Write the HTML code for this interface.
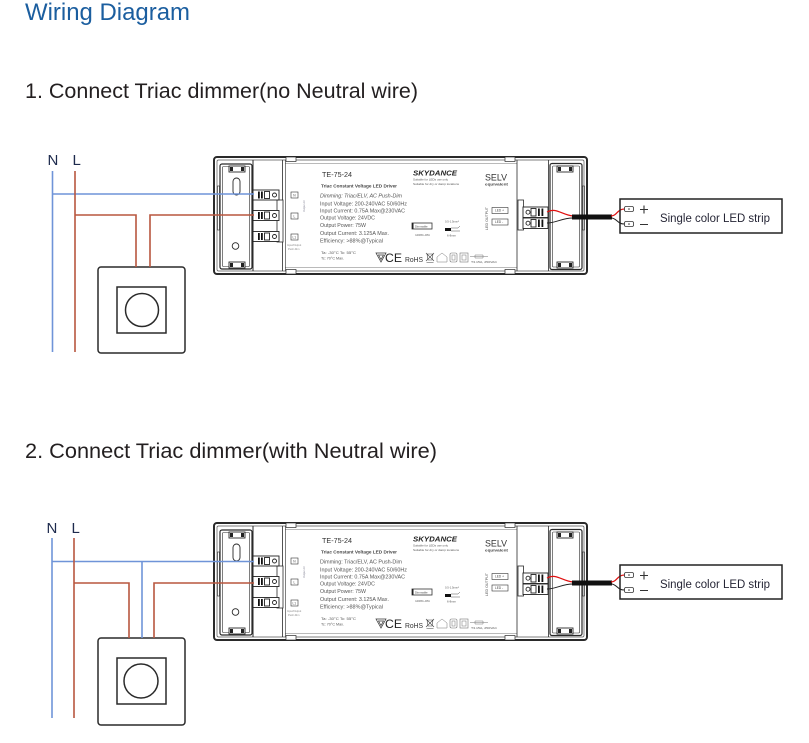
<!DOCTYPE html>
<html><head><meta charset="utf-8">
<style>
html,body{margin:0;padding:0;background:#fff;width:809px;height:743px;overflow:hidden}
svg{display:block}
</style></head>
<body>
<svg width="809" height="743" viewBox="0 0 809 743" xmlns="http://www.w3.org/2000/svg" font-family="'Liberation Sans', Arial, sans-serif">
<rect width="809" height="743" fill="#fff"/>

<!-- Titles -->
<text x="25" y="20" font-size="24" fill="#1b5e9f" textLength="165" lengthAdjust="spacingAndGlyphs">Wiring Diagram</text>
<text x="25" y="98" font-size="21" fill="#231f20" textLength="393" lengthAdjust="spacingAndGlyphs">1. Connect Triac dimmer(no Neutral wire)</text>
<text x="25" y="458" font-size="21" fill="#231f20" textLength="412" lengthAdjust="spacingAndGlyphs">2. Connect Triac dimmer(with Neutral wire)</text>

<!-- N / L labels -->
<text x="47.5" y="165" font-size="15" fill="#1d2a4d">N</text>
<text x="72.5" y="165" font-size="15" fill="#1d2a4d">L</text>
<text x="46.5" y="533" font-size="15" fill="#1d2a4d">N</text>
<text x="71.5" y="533" font-size="15" fill="#1d2a4d">L</text>

<!-- ========== DRIVER 1 ========== -->
<g id="drv1">
<g fill="none" stroke="#2a2a2a">
  <rect x="214" y="157" width="373" height="117" rx="3" stroke-width="2" fill="#fff"/>
  <rect x="217" y="160" width="367" height="111" rx="1.5" stroke-width="0.7" stroke="#555"/>
  <line x1="285" y1="163.5" x2="517" y2="163.5" stroke-width="0.6" stroke="#777"/>
  <line x1="285" y1="267.5" x2="517" y2="267.5" stroke-width="0.6" stroke="#777"/>
  <line x1="253" y1="160" x2="253" y2="271" stroke-width="1"/>
  <line x1="282.5" y1="160" x2="282.5" y2="271" stroke-width="0.8"/>
  <line x1="285.5" y1="160" x2="285.5" y2="271" stroke-width="0.6"/>
  <line x1="517" y1="160" x2="517" y2="271" stroke-width="0.8"/>
  <line x1="548.5" y1="160" x2="548.5" y2="271" stroke-width="0.8"/>
  <rect x="286" y="157" width="10" height="4.5" stroke-width="0.7" fill="#fff"/>
  <rect x="286" y="269.5" width="10" height="4.5" stroke-width="0.7" fill="#fff"/>
  <rect x="505" y="157" width="10" height="4.5" stroke-width="0.7" fill="#fff"/>
  <rect x="505" y="269.5" width="10" height="4.5" stroke-width="0.7" fill="#fff"/>
  <!-- left end cap -->
  <rect x="220" y="164" width="32" height="105" rx="2" stroke-width="1.2"/>
  <rect x="222.5" y="166.5" width="27" height="100" rx="1" stroke-width="0.6"/>
  <rect x="217.5" y="186" width="2" height="44" stroke-width="0.6"/>
  <rect x="233" y="178" width="7" height="17" rx="3.5" stroke-width="0.9"/>
  <circle cx="235.5" cy="246" r="3.3" stroke-width="0.9"/>
  <rect x="229" y="166" width="16" height="6" fill="#fff" stroke-width="0.9"/>
  <rect x="229" y="262" width="16" height="6" fill="#fff" stroke-width="0.9"/>
  <!-- right end cap -->
  <rect x="550" y="163.5" width="32" height="106" rx="2" stroke-width="1.2"/>
  <rect x="552.5" y="166" width="27" height="101" rx="1" stroke-width="0.6"/>
  <rect x="582.5" y="186" width="2" height="44" stroke-width="0.6"/>
  <rect x="557" y="166" width="16" height="6" fill="#fff" stroke-width="0.9"/>
  <rect x="557" y="262" width="16" height="6" fill="#fff" stroke-width="0.9"/>
  <!-- brackets -->
  <rect x="277" y="200" width="6" height="42" fill="#fff" stroke-width="0.8"/>
  <rect x="518" y="200" width="5.5" height="30" fill="#fff" stroke-width="0.8"/>
</g>
<g fill="#222">
  <rect x="230" y="167" width="3" height="4"/><rect x="241" y="167" width="3" height="4"/>
  <rect x="230" y="263" width="3" height="4"/><rect x="241" y="263" width="3" height="4"/>
  <rect x="558" y="167" width="3" height="4"/><rect x="569" y="167" width="3" height="4"/>
  <rect x="558" y="263" width="3" height="4"/><rect x="569" y="263" width="3" height="4"/>
</g>
<!-- left terminal blocks -->
<g stroke="#222" stroke-width="0.9" fill="#fff">
  <rect x="253" y="190" width="26" height="10"/>
  <rect x="253" y="210.5" width="26" height="10"/>
  <rect x="253" y="231.5" width="26" height="10"/>
  <rect x="264.5" y="191.5" width="5" height="7" fill="none"/>
  <rect x="264.5" y="212" width="5" height="7" fill="none"/>
  <rect x="264.5" y="233" width="5" height="7" fill="none"/>
  <circle cx="274.5" cy="195" r="2" fill="none"/>
  <circle cx="274.5" cy="215.5" r="2" fill="none"/>
  <circle cx="274.5" cy="236.5" r="2" fill="none"/>
  <!-- right blocks -->
  <rect x="523" y="207" width="25" height="10.5"/>
  <rect x="523" y="218" width="25" height="10.5"/>
  <circle cx="528" cy="212.2" r="2" fill="none"/>
  <circle cx="528" cy="223.2" r="2" fill="none"/>
  <rect x="531" y="208.5" width="5" height="7.5" fill="none"/>
  <rect x="531" y="219.5" width="5" height="7.5" fill="none"/>
</g>
<g fill="#111">
  <rect x="258" y="191.5" width="1.8" height="7"/><rect x="261" y="191.5" width="1.8" height="7"/>
  <rect x="258" y="212" width="1.8" height="7"/><rect x="261" y="212" width="1.8" height="7"/>
  <rect x="258" y="233" width="1.8" height="7"/><rect x="261" y="233" width="1.8" height="7"/>
  <rect x="538" y="208.5" width="1.8" height="7.5"/><rect x="541.5" y="208.5" width="1.8" height="7.5"/>
  <rect x="538" y="219.5" width="1.8" height="7.5"/><rect x="541.5" y="219.5" width="1.8" height="7.5"/>
</g>
<!-- label boxes -->
<g fill="none" stroke="#333" stroke-width="0.6">
  <rect x="291" y="192" width="7" height="6"/>
  <rect x="291" y="213" width="7" height="6"/>
  <rect x="291" y="234" width="7" height="6"/>
  <rect x="492" y="207.5" width="16" height="6"/>
  <rect x="492" y="219" width="16" height="6"/>
</g>
<g fill="#444" font-size="3.2">
  <text x="293.3" y="196.6">N</text>
  <text x="293.5" y="217.6">L</text>
  <text x="292.5" y="238.6">L1</text>
  <text x="495" y="211.6">LED +</text>
  <text x="495" y="223.1">LED -</text>
  <text x="287" y="246" font-size="2.6" fill="#888">Input/Output</text>
  <text x="288" y="250" font-size="2.6" fill="#888">Push-Dim</text>
  <text transform="translate(305,212) rotate(-90)" font-size="2.6" fill="#889">Output AC</text>
  <text transform="translate(488,230) rotate(-90)" font-size="3.4" fill="#555" textLength="23" lengthAdjust="spacingAndGlyphs">LED OUTPUT</text>
</g>
<!-- label text -->
<g fill="#555">
  <text x="322" y="177" font-size="7.5" fill="#333" textLength="30" lengthAdjust="spacingAndGlyphs">TE-75-24</text>
  <text x="321" y="187.5" font-size="4.5" font-weight="bold" fill="#444" textLength="76" lengthAdjust="spacingAndGlyphs">Triac Constant Voltage LED Driver</text>
  <text x="320" y="197.5" font-size="5.2" font-style="italic" textLength="82" lengthAdjust="spacingAndGlyphs">Dimming: Triac/ELV, AC Push-Dim</text>
  <text x="320" y="205.5" font-size="5.2" textLength="87" lengthAdjust="spacingAndGlyphs">Input Voltage: 200-240VAC 50/60Hz</text>
  <text x="320" y="212.5" font-size="5.2" textLength="85" lengthAdjust="spacingAndGlyphs">Input Current: 0.75A Max@230VAC</text>
  <text x="320" y="219.5" font-size="5.2" textLength="55" lengthAdjust="spacingAndGlyphs">Output Voltage: 24VDC</text>
  <text x="320" y="227" font-size="5.2" textLength="46" lengthAdjust="spacingAndGlyphs">Output Power: 75W</text>
  <text x="320" y="235" font-size="5.2" textLength="69" lengthAdjust="spacingAndGlyphs">Output Current: 3.125A Max.</text>
  <text x="320" y="242.5" font-size="5.2" textLength="63" lengthAdjust="spacingAndGlyphs">Efficiency: &gt;88%@Typical</text>
  <text x="321" y="254" font-size="3.6" textLength="35" lengthAdjust="spacingAndGlyphs">Ta: -30°C  Tc: 55°C</text>
  <text x="321" y="259.5" font-size="3.6" textLength="23" lengthAdjust="spacingAndGlyphs">Tc: 70°C Max.</text>
  <text x="413" y="175.5" font-size="7.5" font-weight="bold" font-style="italic" fill="#222" textLength="44" lengthAdjust="spacingAndGlyphs">SKYDANCE</text>
  <text x="413" y="180.5" font-size="3.1" textLength="35" lengthAdjust="spacingAndGlyphs">Suitable for LEDs use only</text>
  <text x="413" y="185" font-size="3.1" textLength="46" lengthAdjust="spacingAndGlyphs">Suitable for dry or damp locations</text>
  <text x="485" y="180.5" font-size="9" fill="#333" textLength="22" lengthAdjust="spacingAndGlyphs">SELV</text>
  <text x="485" y="185.5" font-size="4" font-weight="bold" fill="#444" textLength="23" lengthAdjust="spacingAndGlyphs">equivalent</text>
  <!-- dimmable badge -->
  <rect x="412" y="223" width="20" height="6" fill="#fff" stroke="#333" stroke-width="0.8"/>
  <rect x="412" y="223" width="1.5" height="6" fill="#222"/>
  <text x="415" y="227.3" font-size="2.8" fill="#444">Dimmable</text>
  <text x="415" y="236" font-size="3" textLength="15" lengthAdjust="spacingAndGlyphs">100%-0%</text>
  <text x="445" y="222.5" font-size="2.8" textLength="14" lengthAdjust="spacingAndGlyphs">0.5-1.5mm²</text>
  <rect x="445" y="228" width="6" height="3" fill="#111"/>
  <path d="M451 228 H458 L460 226 M451 231 H460" fill="none" stroke="#555" stroke-width="0.5"/>
  <text x="447" y="236.5" font-size="2.8" textLength="9" lengthAdjust="spacingAndGlyphs">6-8mm</text>
  <!-- certification row -->
  <path d="M376 253 L386 253 L381 262 Z M378.5 255 L383.5 255 L381 259.5 Z" fill="none" stroke="#333" stroke-width="0.7"/>
  <text x="385" y="262" font-size="12" fill="#222" textLength="17" lengthAdjust="spacingAndGlyphs">CE</text>
  <text x="405" y="262" font-size="7" fill="#333" textLength="18" lengthAdjust="spacingAndGlyphs">RoHS</text>
  <path d="M427 254 H433 L432 260 H428 Z M426 253 L434 261 M434 253 L426 261 M426.5 262.5 H433.5" fill="none" stroke="#444" stroke-width="0.6"/>
  <path d="M437 262 V257 L442 253 L447 257 V262 Z" fill="none" stroke="#777" stroke-width="0.5"/>
  <rect x="450" y="253" width="7" height="9" rx="1.5" fill="none" stroke="#777" stroke-width="0.6"/>
  <rect x="452" y="255" width="3" height="5" fill="none" stroke="#777" stroke-width="0.5"/>
  <rect x="460" y="253" width="8" height="9" fill="none" stroke="#777" stroke-width="0.6"/>
  <rect x="462" y="255" width="4" height="5" fill="none" stroke="#777" stroke-width="0.5"/>
  <path d="M470 256.5 H488 M475 255 H483 V258 H475 Z" fill="none" stroke="#777" stroke-width="0.5"/>
  <text x="471" y="263" font-size="2.8" textLength="26" lengthAdjust="spacingAndGlyphs">T3.15A, 250VAC</text>
</g>
<!-- output wires & cable -->
<path d="M547 212 C556 207 562 215 573 216" fill="none" stroke="#e01010" stroke-width="1.2"/>
<path d="M547 223 C556 223 562 218 573 218" fill="none" stroke="#222" stroke-width="1"/>
<rect x="572" y="214.5" width="40" height="5" fill="#111"/>
<path d="M611 216 C617 216 617 209 624.5 209" fill="none" stroke="#e01010" stroke-width="1.2"/>
<path d="M611 218 C617 218 617 224 624.5 224" fill="none" stroke="#222" stroke-width="1.1"/>
<!-- LED strip -->
<rect x="620" y="199" width="162" height="34" fill="none" stroke="#222" stroke-width="1.5"/>
<rect x="624.5" y="206.5" width="9" height="5" rx="1.5" fill="#fff" stroke="#333" stroke-width="0.8"/>
<rect x="624.5" y="221.5" width="9" height="5" rx="1.5" fill="#fff" stroke="#333" stroke-width="0.8"/>
<circle cx="629" cy="209" r="0.8" fill="#333"/>
<circle cx="629" cy="224" r="0.8" fill="#333"/>
<path d="M640 209.5 H648 M644 205.5 V213.5 M640 224.5 H648" stroke="#333" stroke-width="1.1"/>
<text x="660" y="222" font-size="11.5" fill="#262636" textLength="110" lengthAdjust="spacingAndGlyphs">Single color LED strip</text>
</g>

<!-- ========== DRIVER 2 (same, shifted) ========== -->
<g transform="translate(0,366)">
<g fill="none" stroke="#2a2a2a">
  <rect x="214" y="157" width="373" height="117" rx="3" stroke-width="2" fill="#fff"/>
  <rect x="217" y="160" width="367" height="111" rx="1.5" stroke-width="0.7" stroke="#555"/>
  <line x1="285" y1="163.5" x2="517" y2="163.5" stroke-width="0.6" stroke="#777"/>
  <line x1="285" y1="267.5" x2="517" y2="267.5" stroke-width="0.6" stroke="#777"/>
  <line x1="253" y1="160" x2="253" y2="271" stroke-width="1"/>
  <line x1="282.5" y1="160" x2="282.5" y2="271" stroke-width="0.8"/>
  <line x1="285.5" y1="160" x2="285.5" y2="271" stroke-width="0.6"/>
  <line x1="517" y1="160" x2="517" y2="271" stroke-width="0.8"/>
  <line x1="548.5" y1="160" x2="548.5" y2="271" stroke-width="0.8"/>
  <rect x="286" y="157" width="10" height="4.5" stroke-width="0.7" fill="#fff"/>
  <rect x="286" y="269.5" width="10" height="4.5" stroke-width="0.7" fill="#fff"/>
  <rect x="505" y="157" width="10" height="4.5" stroke-width="0.7" fill="#fff"/>
  <rect x="505" y="269.5" width="10" height="4.5" stroke-width="0.7" fill="#fff"/>
  <rect x="220" y="164" width="32" height="105" rx="2" stroke-width="1.2"/>
  <rect x="222.5" y="166.5" width="27" height="100" rx="1" stroke-width="0.6"/>
  <rect x="217.5" y="186" width="2" height="44" stroke-width="0.6"/>
  <rect x="233" y="178" width="7" height="17" rx="3.5" stroke-width="0.9"/>
  <circle cx="235.5" cy="246" r="3.3" stroke-width="0.9"/>
  <rect x="229" y="166" width="16" height="6" fill="#fff" stroke-width="0.9"/>
  <rect x="229" y="262" width="16" height="6" fill="#fff" stroke-width="0.9"/>
  <rect x="550" y="163.5" width="32" height="106" rx="2" stroke-width="1.2"/>
  <rect x="552.5" y="166" width="27" height="101" rx="1" stroke-width="0.6"/>
  <rect x="582.5" y="186" width="2" height="44" stroke-width="0.6"/>
  <rect x="557" y="166" width="16" height="6" fill="#fff" stroke-width="0.9"/>
  <rect x="557" y="262" width="16" height="6" fill="#fff" stroke-width="0.9"/>
  <rect x="277" y="200" width="6" height="42" fill="#fff" stroke-width="0.8"/>
  <rect x="518" y="200" width="5.5" height="30" fill="#fff" stroke-width="0.8"/>
</g>
<g fill="#222">
  <rect x="230" y="167" width="3" height="4"/><rect x="241" y="167" width="3" height="4"/>
  <rect x="230" y="263" width="3" height="4"/><rect x="241" y="263" width="3" height="4"/>
  <rect x="558" y="167" width="3" height="4"/><rect x="569" y="167" width="3" height="4"/>
  <rect x="558" y="263" width="3" height="4"/><rect x="569" y="263" width="3" height="4"/>
</g>
<g stroke="#222" stroke-width="0.9" fill="#fff">
  <rect x="253" y="190" width="26" height="10"/>
  <rect x="253" y="210.5" width="26" height="10"/>
  <rect x="253" y="231.5" width="26" height="10"/>
  <rect x="264.5" y="191.5" width="5" height="7" fill="none"/>
  <rect x="264.5" y="212" width="5" height="7" fill="none"/>
  <rect x="264.5" y="233" width="5" height="7" fill="none"/>
  <circle cx="274.5" cy="195" r="2" fill="none"/>
  <circle cx="274.5" cy="215.5" r="2" fill="none"/>
  <circle cx="274.5" cy="236.5" r="2" fill="none"/>
  <rect x="523" y="207" width="25" height="10.5"/>
  <rect x="523" y="218" width="25" height="10.5"/>
  <circle cx="528" cy="212.2" r="2" fill="none"/>
  <circle cx="528" cy="223.2" r="2" fill="none"/>
  <rect x="531" y="208.5" width="5" height="7.5" fill="none"/>
  <rect x="531" y="219.5" width="5" height="7.5" fill="none"/>
</g>
<g fill="#111">
  <rect x="258" y="191.5" width="1.8" height="7"/><rect x="261" y="191.5" width="1.8" height="7"/>
  <rect x="258" y="212" width="1.8" height="7"/><rect x="261" y="212" width="1.8" height="7"/>
  <rect x="258" y="233" width="1.8" height="7"/><rect x="261" y="233" width="1.8" height="7"/>
  <rect x="538" y="208.5" width="1.8" height="7.5"/><rect x="541.5" y="208.5" width="1.8" height="7.5"/>
  <rect x="538" y="219.5" width="1.8" height="7.5"/><rect x="541.5" y="219.5" width="1.8" height="7.5"/>
</g>
<g fill="none" stroke="#333" stroke-width="0.6">
  <rect x="291" y="192" width="7" height="6"/>
  <rect x="291" y="213" width="7" height="6"/>
  <rect x="291" y="234" width="7" height="6"/>
  <rect x="492" y="207.5" width="16" height="6"/>
  <rect x="492" y="219" width="16" height="6"/>
</g>
<g fill="#444" font-size="3.2">
  <text x="293.3" y="196.6">N</text>
  <text x="293.5" y="217.6">L</text>
  <text x="292.5" y="238.6">L1</text>
  <text x="495" y="211.6">LED +</text>
  <text x="495" y="223.1">LED -</text>
  <text x="287" y="246" font-size="2.6" fill="#888">Input/Output</text>
  <text x="288" y="250" font-size="2.6" fill="#888">Push-Dim</text>
  <text transform="translate(305,212) rotate(-90)" font-size="2.6" fill="#889">Output AC</text>
  <text transform="translate(488,230) rotate(-90)" font-size="3.4" fill="#555" textLength="23" lengthAdjust="spacingAndGlyphs">LED OUTPUT</text>
</g>
<g fill="#555">
  <text x="322" y="177" font-size="7.5" fill="#333" textLength="30" lengthAdjust="spacingAndGlyphs">TE-75-24</text>
  <text x="321" y="187.5" font-size="4.5" font-weight="bold" fill="#444" textLength="76" lengthAdjust="spacingAndGlyphs">Triac Constant Voltage LED Driver</text>
  <text x="320" y="197.5" font-size="5.2" textLength="82" lengthAdjust="spacingAndGlyphs">Dimming: Triac/ELV, AC Push-Dim</text>
  <text x="320" y="205.5" font-size="5.2" textLength="87" lengthAdjust="spacingAndGlyphs">Input Voltage: 200-240VAC 50/60Hz</text>
  <text x="320" y="212.5" font-size="5.2" textLength="85" lengthAdjust="spacingAndGlyphs">Input Current: 0.75A Max@230VAC</text>
  <text x="320" y="219.5" font-size="5.2" textLength="55" lengthAdjust="spacingAndGlyphs">Output Voltage: 24VDC</text>
  <text x="320" y="227" font-size="5.2" textLength="46" lengthAdjust="spacingAndGlyphs">Output Power: 75W</text>
  <text x="320" y="235" font-size="5.2" textLength="69" lengthAdjust="spacingAndGlyphs">Output Current: 3.125A Max.</text>
  <text x="320" y="242.5" font-size="5.2" textLength="63" lengthAdjust="spacingAndGlyphs">Efficiency: &gt;88%@Typical</text>
  <text x="321" y="254" font-size="3.6" textLength="35" lengthAdjust="spacingAndGlyphs">Ta: -30°C  Tc: 55°C</text>
  <text x="321" y="259.5" font-size="3.6" textLength="23" lengthAdjust="spacingAndGlyphs">Tc: 70°C Max.</text>
  <text x="413" y="175.5" font-size="7.5" font-weight="bold" font-style="italic" fill="#222" textLength="44" lengthAdjust="spacingAndGlyphs">SKYDANCE</text>
  <text x="413" y="180.5" font-size="3.1" textLength="35" lengthAdjust="spacingAndGlyphs">Suitable for LEDs use only</text>
  <text x="413" y="185" font-size="3.1" textLength="46" lengthAdjust="spacingAndGlyphs">Suitable for dry or damp locations</text>
  <text x="485" y="180.5" font-size="9" fill="#333" textLength="22" lengthAdjust="spacingAndGlyphs">SELV</text>
  <text x="485" y="185.5" font-size="4" font-weight="bold" fill="#444" textLength="23" lengthAdjust="spacingAndGlyphs">equivalent</text>
  <rect x="412" y="223" width="20" height="6" fill="#fff" stroke="#333" stroke-width="0.8"/>
  <rect x="412" y="223" width="1.5" height="6" fill="#222"/>
  <text x="415" y="227.3" font-size="2.8" fill="#444">Dimmable</text>
  <text x="415" y="236" font-size="3" textLength="15" lengthAdjust="spacingAndGlyphs">100%-0%</text>
  <text x="445" y="222.5" font-size="2.8" textLength="14" lengthAdjust="spacingAndGlyphs">0.5-1.5mm²</text>
  <rect x="445" y="228" width="6" height="3" fill="#111"/>
  <path d="M451 228 H458 L460 226 M451 231 H460" fill="none" stroke="#555" stroke-width="0.5"/>
  <text x="447" y="236.5" font-size="2.8" textLength="9" lengthAdjust="spacingAndGlyphs">6-8mm</text>
  <path d="M376 253 L386 253 L381 262 Z M378.5 255 L383.5 255 L381 259.5 Z" fill="none" stroke="#333" stroke-width="0.7"/>
  <text x="385" y="262" font-size="12" fill="#222" textLength="17" lengthAdjust="spacingAndGlyphs">CE</text>
  <text x="405" y="262" font-size="7" fill="#333" textLength="18" lengthAdjust="spacingAndGlyphs">RoHS</text>
  <path d="M427 254 H433 L432 260 H428 Z M426 253 L434 261 M434 253 L426 261 M426.5 262.5 H433.5" fill="none" stroke="#444" stroke-width="0.6"/>
  <path d="M437 262 V257 L442 253 L447 257 V262 Z" fill="none" stroke="#777" stroke-width="0.5"/>
  <rect x="450" y="253" width="7" height="9" rx="1.5" fill="none" stroke="#777" stroke-width="0.6"/>
  <rect x="452" y="255" width="3" height="5" fill="none" stroke="#777" stroke-width="0.5"/>
  <rect x="460" y="253" width="8" height="9" fill="none" stroke="#777" stroke-width="0.6"/>
  <rect x="462" y="255" width="4" height="5" fill="none" stroke="#777" stroke-width="0.5"/>
  <path d="M470 256.5 H488 M475 255 H483 V258 H475 Z" fill="none" stroke="#777" stroke-width="0.5"/>
  <text x="471" y="263" font-size="2.8" textLength="26" lengthAdjust="spacingAndGlyphs">T3.15A, 250VAC</text>
</g>
<path d="M547 212 C556 207 562 215 573 216" fill="none" stroke="#e01010" stroke-width="1.2"/>
<path d="M547 223 C556 223 562 218 573 218" fill="none" stroke="#222" stroke-width="1"/>
<rect x="572" y="214.5" width="40" height="5" fill="#111"/>
<path d="M611 216 C617 216 617 209 624.5 209" fill="none" stroke="#e01010" stroke-width="1.2"/>
<path d="M611 218 C617 218 617 224 624.5 224" fill="none" stroke="#222" stroke-width="1.1"/>
<rect x="620" y="199" width="162" height="34" fill="none" stroke="#222" stroke-width="1.5"/>
<rect x="624.5" y="206.5" width="9" height="5" rx="1.5" fill="#fff" stroke="#333" stroke-width="0.8"/>
<rect x="624.5" y="221.5" width="9" height="5" rx="1.5" fill="#fff" stroke="#333" stroke-width="0.8"/>
<circle cx="629" cy="209" r="0.8" fill="#333"/>
<circle cx="629" cy="224" r="0.8" fill="#333"/>
<path d="M640 209.5 H648 M644 205.5 V213.5 M640 224.5 H648" stroke="#333" stroke-width="1.1"/>
<text x="660" y="222" font-size="11.5" fill="#262636" textLength="110" lengthAdjust="spacingAndGlyphs">Single color LED strip</text>
</g>

<!-- ========== DIMMERS ========== -->
<g fill="none" stroke="#2a2a2a" stroke-width="1.5">
  <rect x="98" y="267" width="87" height="86" rx="3"/>
  <rect x="117" y="287" width="49" height="46"/>
  <circle cx="142" cy="310" r="16.5"/>
  <rect x="98" y="638" width="87" height="87" rx="3"/>
  <rect x="117" y="658" width="49" height="46"/>
  <circle cx="141" cy="681" r="17"/>
</g>

<!-- ========== WIRES diagram 1 ========== -->
<g fill="none" stroke-width="1.6">
  <path d="M52.5 171 V352" stroke="#6f94d8"/>
  <path d="M52.5 194 H254" stroke="#6f94d8"/>
  <path d="M75 171 V352" stroke="#b8573f"/>
  <path d="M75 215 H136 V267" stroke="#b8573f"/>
  <path d="M150 267 V215 H254" stroke="#b8573f"/>
</g>

<!-- ========== WIRES diagram 2 ========== -->
<g fill="none" stroke-width="1.6">
  <path d="M52 538 V718" stroke="#6f94d8"/>
  <path d="M52 561.5 H254" stroke="#6f94d8"/>
  <path d="M142 561.5 V638" stroke="#6f94d8"/>
  <path d="M74 538 V718" stroke="#b8573f"/>
  <path d="M74 583 H129 V638" stroke="#b8573f"/>
  <path d="M154 638 V583 H254" stroke="#b8573f"/>
</g>
</svg>
</body></html>
